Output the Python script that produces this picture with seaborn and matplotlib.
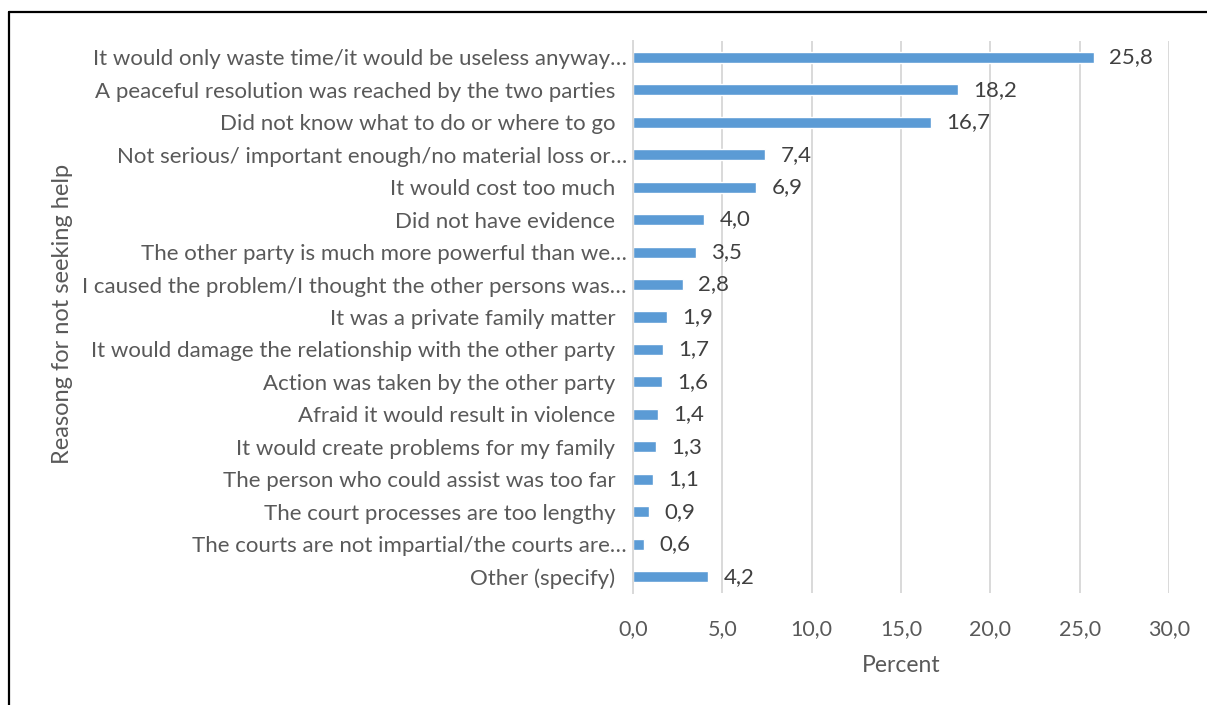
import matplotlib
matplotlib.use("Agg")
import matplotlib.pyplot as plt
import seaborn as sns
import pandas as pd
from matplotlib.ticker import FuncFormatter
from matplotlib.lines import Line2D

reasons = [
    "It would only waste time/it would be useless anyway…",
    "A peaceful resolution was reached by the two parties  ",
    "Did not know what to do or where to go  ",
    "Not serious/ important enough/no material loss or…",
    "It would cost too much  ",
    "Did not have evidence  ",
    "The other party is much more powerful than we…",
    "I caused the problem/I thought the other persons was…",
    "It was a private family matter  ",
    "It would damage the relationship with the other party  ",
    "Action was taken by the other party  ",
    "Afraid it would result in violence  ",
    "It would create problems for my family  ",
    "The person who could assist was too far  ",
    "The court processes are too lengthy  ",
    "The courts are not impartial/the courts are…",
    "Other (specify)  ",
]
percent = [25.8, 18.2, 16.7, 7.4, 6.9, 4.0, 3.5, 2.8, 1.9, 1.7, 1.6, 1.4, 1.3, 1.1, 0.9, 0.6, 4.2]
x_ticks = [0, 5, 10, 15, 20, 25, 30]

df = pd.DataFrame({"reason": reasons, "percent": percent})

sns.set_theme(style="white")
plt.rcParams["font.family"] = ["Lato", "DejaVu Sans"]

fig = plt.figure(figsize=(12.07, 7.05), dpi=100)
ax = fig.add_axes([633 / 1207, 1 - 593 / 705, (1169 - 633) / 1207, (593 - 41) / 705])

sns.barplot(data=df, x="percent", y="reason", orient="h", color="#5B9BD5",
            width=0.34, saturation=1, ax=ax)

ax.set_xlim(0, 30)
ax.set_ylim(len(reasons) - 0.5, -0.5)
ax.set_xticks(x_ticks)
ax.xaxis.set_major_formatter(FuncFormatter(lambda v, p: f"{v:.1f}".replace(".", ",")))
ax.grid(axis="x", color="#D9D9D9", linewidth=1.4)
ax.grid(axis="y", visible=False)
ax.set_axisbelow(True)
for s in ["top", "right", "bottom"]:
    ax.spines[s].set_visible(False)
ax.spines["left"].set_color("#D9D9D9")
ax.spines["left"].set_linewidth(1.4)
ax.tick_params(axis="y", length=0, labelsize=16, colors="#595959", pad=4.5)
ax.tick_params(axis="x", length=0, labelsize=15.5, colors="#595959", pad=19)

for c in ax.containers:
    ax.bar_label(c, labels=[f"{v:.1f}".replace(".", ",") for v in percent],
                 padding=11, fontsize=16, color="#404040")

ax.set_xlabel("Percent", fontsize=16.5, color="#595959", labelpad=11)
ax.set_ylabel("Reasong for not seeking help", fontsize=17, color="#595959")
ax.yaxis.set_label_coords((73 - 633) / (1169 - 633), 0.505)

fig.add_artist(Line2D([9 / 1207, 1.0], [1 - 12 / 705, 1 - 12 / 705], color="black", lw=1.6,
                      transform=fig.transFigure))
fig.add_artist(Line2D([9 / 1207, 9 / 1207], [0, 1 - 12 / 705], color="black", lw=1.6,
                      transform=fig.transFigure))

fig.savefig("out.png", dpi=100, facecolor="white")
